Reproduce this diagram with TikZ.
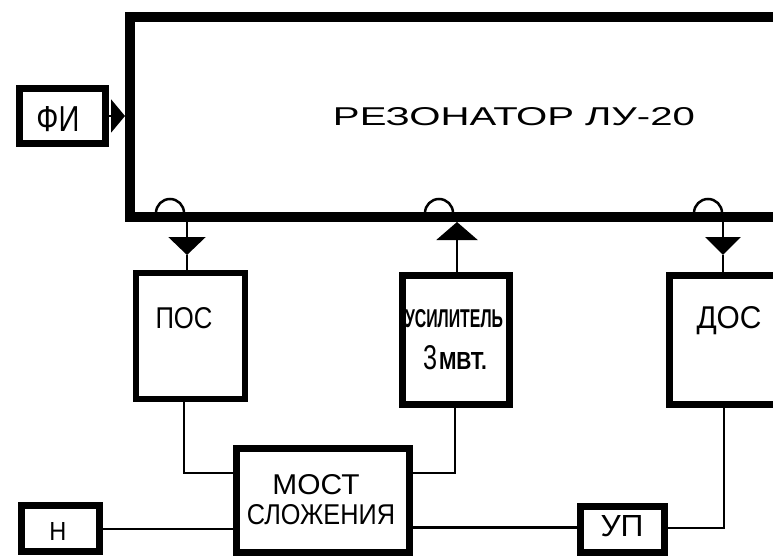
\documentclass[tikz,border=0pt]{standalone}
\usepackage{fontspec}
\setmainfont{Liberation Sans}
\usetikzlibrary{arrows.meta}
\newcommand\fitt[3]{\resizebox{#1pt}{#2pt}{#3}}
\begin{document}
\begin{tikzpicture}[x=1pt,y=1pt,
  blk/.style={draw, rectangle, line width=6.5pt, inner sep=0pt},
  wire/.style={line width=2.5pt},
  lbl/.style={inner sep=0pt}]
\useasboundingbox (0,0) rectangle (773,-556);
\clip (0,0) rectangle (773,-556);

% resonator
\node[blk, line width=10pt, minimum width=670pt, minimum height=200pt] (res) at (465,-117) {};
\node[lbl] (title) at (514,-117) {\fitt{362}{18}{РЕЗОНАТОР ЛУ-20}};

% FI
\node[blk, line width=7pt, minimum width=86pt, minimum height=55pt] (fi) at (62.5,-116) {};
\node[lbl] (fitxt) at (58,-119) {\fitt{43}{25}{ФИ}};
\draw[wire, -{Triangle[width=33pt,length=14pt]}] (fi.east) -- (res.west |- fi.east);

% coupling loops
\draw[wire] (156,-213) arc (180:0:14);
\draw[wire] (425,-213) arc (180:0:14);
\draw[wire] (694,-213) arc (180:0:14);

% blocks
\node[blk, minimum width=109pt, minimum height=126pt] (pos) at (190.5,-336) {};
\node[lbl] (postxt) at (184,-318) {\fitt{57}{21}{ПОС}};

\node[blk, minimum width=107pt, minimum height=129pt] (usil) at (456,-340) {};
\node[lbl] (usiltxt) at (454,-319) {\fitt{98}{18}{\bfseries УСИЛИТЕЛЬ}};
\node[lbl, anchor=base] (mvt) at (455,-369) {\fitt{14}{24}{3}\hspace{2pt}\fitt{48}{17}{\bfseries МВТ.}};

\node[blk, minimum width=127.5pt, minimum height=129pt] (dos) at (733.25,-340) {};
\node[lbl] (dostxt) at (729,-321) {\fitt{65}{22}{ДОС}};

\node[blk, line width=7pt, minimum width=173pt, minimum height=103.5pt] (most) at (323,-500.25) {};
\node[lbl] (mosttxt) at (316,-485) {\fitt{87}{20}{МОСТ}};
\node[lbl] (slozh) at (321,-515) {\fitt{148}{20}{СЛОЖЕНИЯ}};

\node[blk, line width=7pt, minimum width=78pt, minimum height=45.5pt] (n) at (60.5,-528.25) {};
\node[lbl] (ntxt) at (58,-531) {\fitt{17}{18}{Н}};

\node[blk, line width=7pt, minimum width=84pt, minimum height=45.5pt] (up) at (622.5,-529.25) {};
\node[lbl] (uptxt) at (622,-526) {\fitt{43}{21}{УП}};

% stems with arrows
\coordinate (c1) at (187,-222);
\coordinate (c1t) at (187,-255);
\draw[wire, -{Triangle[width=37pt,length=18pt]}] (c1) -- (c1t);
\draw[wire] (c1t) -- (pos.north -| c1t);

\coordinate (c2) at (457,-222);
\draw[wire, -{Triangle[width=41pt,length=18pt]}] (usil.north -| c2) -- (c2);

\coordinate (c3) at (723,-222);
\coordinate (c3t) at (723,-255);
\draw[wire, -{Triangle[width=35pt,length=18pt]}] (c3) -- (c3t);
\draw[wire] (c3t) -- (dos.north -| c3t);

% lower wiring
\coordinate (j1) at (184,-473);
\draw[wire] (pos.south -| j1) |- (most.west |- j1);
\coordinate (j2) at (455,-473);
\draw[wire] (usil.south -| j2) |- (most.east |- j2);
\coordinate (j3) at (0,-529);
\draw[wire] (n.east |- j3) -- (most.west |- j3);
\coordinate (j4) at (0,-527.5);
\draw[wire] (most.east |- j4) -- (up.west |- j4);
\coordinate (j5) at (724,-528);
\draw[wire] (up.east |- j5) -| (dos.south -| j5);
\end{tikzpicture}
\end{document}
